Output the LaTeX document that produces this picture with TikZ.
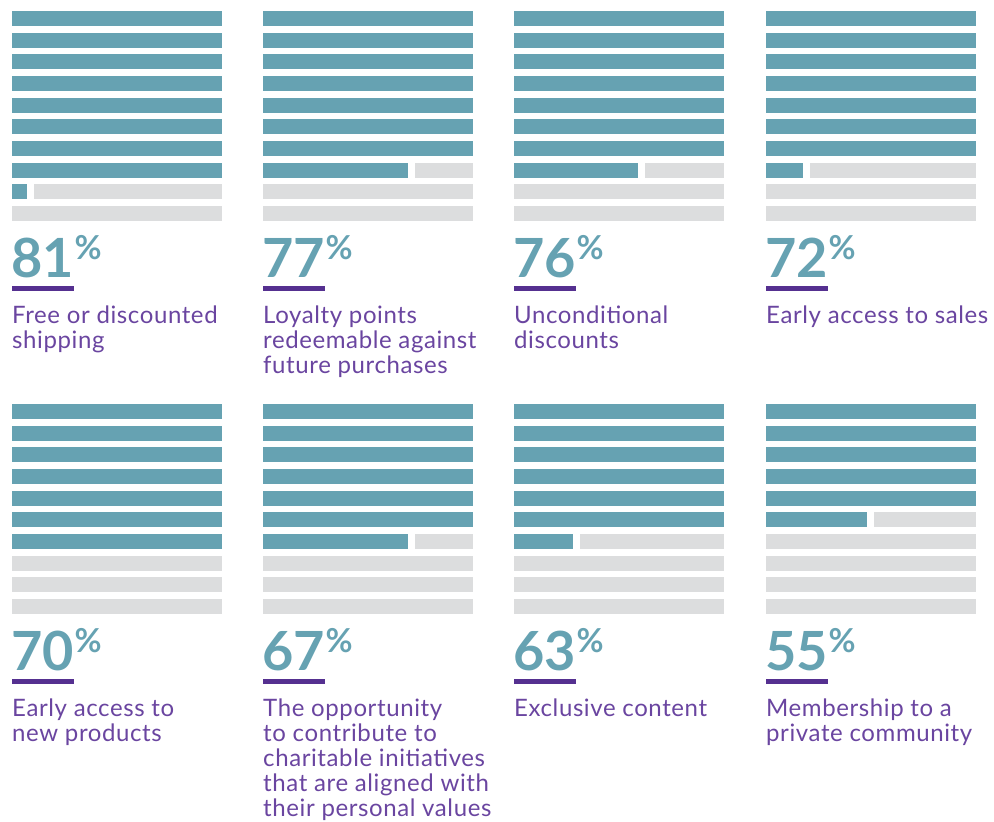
\documentclass[tikz,border=0pt]{standalone}
\usepackage{fontspec}
\setmainfont{Lato}
\definecolor{barteal}{HTML}{66A2B2}
\definecolor{bargrey}{HTML}{DCDDDE}
\definecolor{labpurple}{HTML}{6A45A0}
\definecolor{ulpurple}{HTML}{553090}
\begin{document}
\begin{tikzpicture}[x=1pt,y=-1pt,
  numsty/.style={anchor=base west,inner sep=0pt,text=barteal,font=\fontsize{54}{54}\selectfont\bfseries},
  pctsty/.style={anchor=base west,inner sep=0pt,text=barteal,font=\fontsize{33}{33}\selectfont\bfseries},
  labsty/.style={anchor=base west,inner sep=0pt,text=labpurple,font=\fontsize{24}{25}\selectfont\addfontfeatures{LetterSpace=2.5}}]
\useasboundingbox (0,0) rectangle (994,822);
\foreach \x/\y/\full/\pw/\num/\id in {12/11/8/15/81/a,263/11/7/145/77/b,514/11/7/124/76/c,766/11/7/37/72/d,
  12/404/7/0/70/e,263/404/6/145/67/f,514/404/6/59/63/g,766/404/5/101/55/h}{
  \foreach \i in {0,...,9}{
    \pgfmathsetmacro\yt{\y+\i*21.65}
    \ifnum\i<\full
      \fill[barteal] (\x,\yt) rectangle (\x+210,\yt+15);
    \else\ifnum\i=\full\ifnum\pw>0
      \fill[barteal] (\x,\yt) rectangle (\x+\pw,\yt+15);
      \fill[bargrey] (\x+\pw+6.5,\yt) rectangle (\x+210,\yt+15);
    \else
      \fill[bargrey] (\x,\yt) rectangle (\x+210,\yt+15);
    \fi\else
      \fill[bargrey] (\x,\yt) rectangle (\x+210,\yt+15);
    \fi\fi
  }
  \node[numsty] (n\id) at (\x-1,\y+266.5) {\num};
  \node[pctsty] (p\id) at ([xshift=0.5pt,yshift=18pt]n\id.base east) {\%};
  \fill[ulpurple] (\x,\y+275) rectangle (\x+62,\y+280);
}
\foreach \x/\y/\k/\t/\id in {
  12/11/0/Free or discounted/a0, 12/11/1/shipping/a1,
  263/11/0/Loyalty points/b0, 263/11/1/redeemable against/b1, 263/11/2/future purchases/b2,
  514/11/0/Unconditional/c0, 514/11/1/discounts/c1,
  766/11/0/Early access to sales/d0,
  12/404/0/Early access to/e0, 12/404/1/new products/e1,
  263/404/0/The opportunity/f0, 263/404/1/to contribute to/f1, 263/404/2/charitable initiatives/f2,
  263/404/3/that are aligned with/f3, 263/404/4/their personal values/f4,
  514/404/0/Exclusive content/g0,
  766/404/0/Membership to a/h0, 766/404/1/private community/h1}{
  \node[labsty] (l\id) at (\x,\y+312+\k*25) {\t};
}
\end{tikzpicture}
\end{document}
